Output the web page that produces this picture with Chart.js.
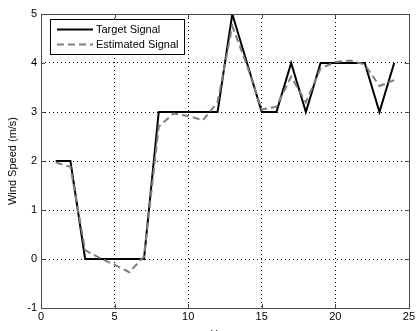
<!DOCTYPE html>
<html>
<head>
<meta charset="utf-8">
<script src="https://cdn.jsdelivr.net/npm/chart.js@4/dist/chart.umd.min.js"></script>
<style>
html,body{margin:0;padding:0;background:#fff;}
#wrap{width:417px;height:331px;position:relative;}
</style>
</head>
<body>
<div id="wrap"><canvas id="c" width="417" height="331"></canvas></div>
<script>
const hours = [1,2,3,4,5,6,7,8,9,10,11,12,13,14,15,16,17,18,19,20,21,22,23,24];
const targetSignal = [2,2,0,0,0,0,0,3,3,3,3,3,5,4,3,3,4,3,4,4,4,4,3,4];
const estimatedSignal = [1.97,1.88,0.18,0.02,-0.12,-0.27,0.05,2.7,2.97,2.92,2.83,3.2,4.75,3.95,3.05,3.11,3.72,3.2,3.89,4.02,4.05,3.97,3.53,3.65];
const xTicks = [0,5,10,15,20,25];
const yTicks = [-1,0,1,2,3,4,5];
const seriesNames = ['Target Signal','Estimated Signal'];
const yTitle = 'Wind Speed (m/s)';
const xTitle = 'Hours';

const FONT = 'Liberation Sans, Arial, sans-serif';

const framePlugin = {
  id: 'frame',
  afterDatasetsDraw(chart) {
    const ctx = chart.ctx;
    const a = chart.chartArea;
    const xs = chart.scales.x, ys = chart.scales.y;
    ctx.save();
    ctx.strokeStyle = '#4a4a4a';
    ctx.lineWidth = 1;
    ctx.setLineDash([]);
    ctx.strokeRect(Math.round(a.left)+0.5, Math.round(a.top)+0.5, Math.round(a.right-a.left), Math.round(a.bottom-a.top));
    ctx.beginPath();
    xTicks.forEach(v => {
      const px = Math.round(xs.getPixelForValue(v)) + 0.5;
      ctx.moveTo(px, a.bottom); ctx.lineTo(px, a.bottom - 4);
      ctx.moveTo(px, a.top); ctx.lineTo(px, a.top + 4);
    });
    yTicks.forEach(v => {
      const py = Math.round(ys.getPixelForValue(v)) + 0.5;
      ctx.moveTo(a.left, py); ctx.lineTo(a.left + 4, py);
      ctx.moveTo(a.right, py); ctx.lineTo(a.right - 4, py);
    });
    ctx.stroke();
    // legend
    const lx = 50.5, ly = 19.5, lw = 134, lh = 35;
    ctx.fillStyle = '#fff';
    ctx.fillRect(lx, ly, lw, lh);
    ctx.strokeStyle = '#000';
    ctx.strokeRect(lx, ly, lw, lh);
    ctx.font = '11px ' + FONT;
    ctx.textBaseline = 'middle';
    ctx.textAlign = 'left';
    seriesNames.forEach((name, i) => {
      const ds = chart.data.datasets.find(d => d.label === name);
      const yy = 29.5 + i * 15;
      ctx.beginPath();
      ctx.strokeStyle = ds.borderColor;
      ctx.lineWidth = ds.borderWidth;
      ctx.setLineDash(ds.borderDash || []);
      ctx.moveTo(57, yy); ctx.lineTo(93, yy);
      ctx.stroke();
      ctx.setLineDash([]);
      ctx.fillStyle = '#000';
      ctx.fillText(name, 96, yy);
    });
    // x title (partially cut off at bottom, as in reference)
    ctx.fillStyle = '#000';
    ctx.textAlign = 'center';
    ctx.textBaseline = 'top';
    ctx.fillText(xTitle, (a.left + a.right) / 2, 329);
    ctx.restore();
  }
};

new Chart(document.getElementById('c'), {
  type: 'line',
  data: {
    datasets: [
      {
        label: seriesNames[1],
        data: hours.map((h, i) => ({x: h, y: estimatedSignal[i]})),
        borderColor: '#7f7f7f',
        borderWidth: 2,
        borderDash: [7, 4],
        pointRadius: 0,
        tension: 0,
        fill: false
      },
      {
        label: seriesNames[0],
        data: hours.map((h, i) => ({x: h, y: targetSignal[i]})),
        borderColor: '#000000',
        borderWidth: 2,
        pointRadius: 0,
        tension: 0,
        fill: false
      }
    ]
  },
  options: {
    responsive: false,
    animation: false,
    devicePixelRatio: 1,
    layout: {padding: {left: 0, right: 3, top: 14, bottom: 0}},
    plugins: {legend: {display: false}, tooltip: {enabled: false}},
    scales: {
      x: {
        type: 'linear',
        min: 0, max: 25,
        afterBuildTicks: s => { s.ticks = xTicks.map(v => ({value: v})); },
        afterFit: s => { s.height = 23; },
        ticks: {color: '#000', font: {family: FONT, size: 11}, padding: 2, maxRotation: 0, autoSkip: false},
        grid: {
          color: ctx => (ctx.tick && (ctx.tick.value === 0 || ctx.tick.value === 25)) ? 'rgba(0,0,0,0)' : '#000',
          lineWidth: 1,
          drawTicks: false,
          tickLength: 0
        },
        border: {display: false, dash: [1, 3]}
      },
      y: {
        type: 'linear',
        min: -1, max: 5,
        afterBuildTicks: s => { s.ticks = yTicks.map(v => ({value: v})); },
        afterFit: s => { s.width = 41; },
        title: {display: true, text: yTitle, color: '#000', font: {family: FONT, size: 11}, padding: {top: 6, bottom: 0}},
        ticks: {color: '#000', font: {family: FONT, size: 11}, padding: 4},
        grid: {
          color: ctx => (ctx.tick && (ctx.tick.value === -1 || ctx.tick.value === 5)) ? 'rgba(0,0,0,0)' : '#000',
          lineWidth: 1,
          drawTicks: false,
          tickLength: 0
        },
        border: {display: false, dash: [1, 3]}
      }
    }
  },
  plugins: [framePlugin]
});
</script>
</body>
</html>
